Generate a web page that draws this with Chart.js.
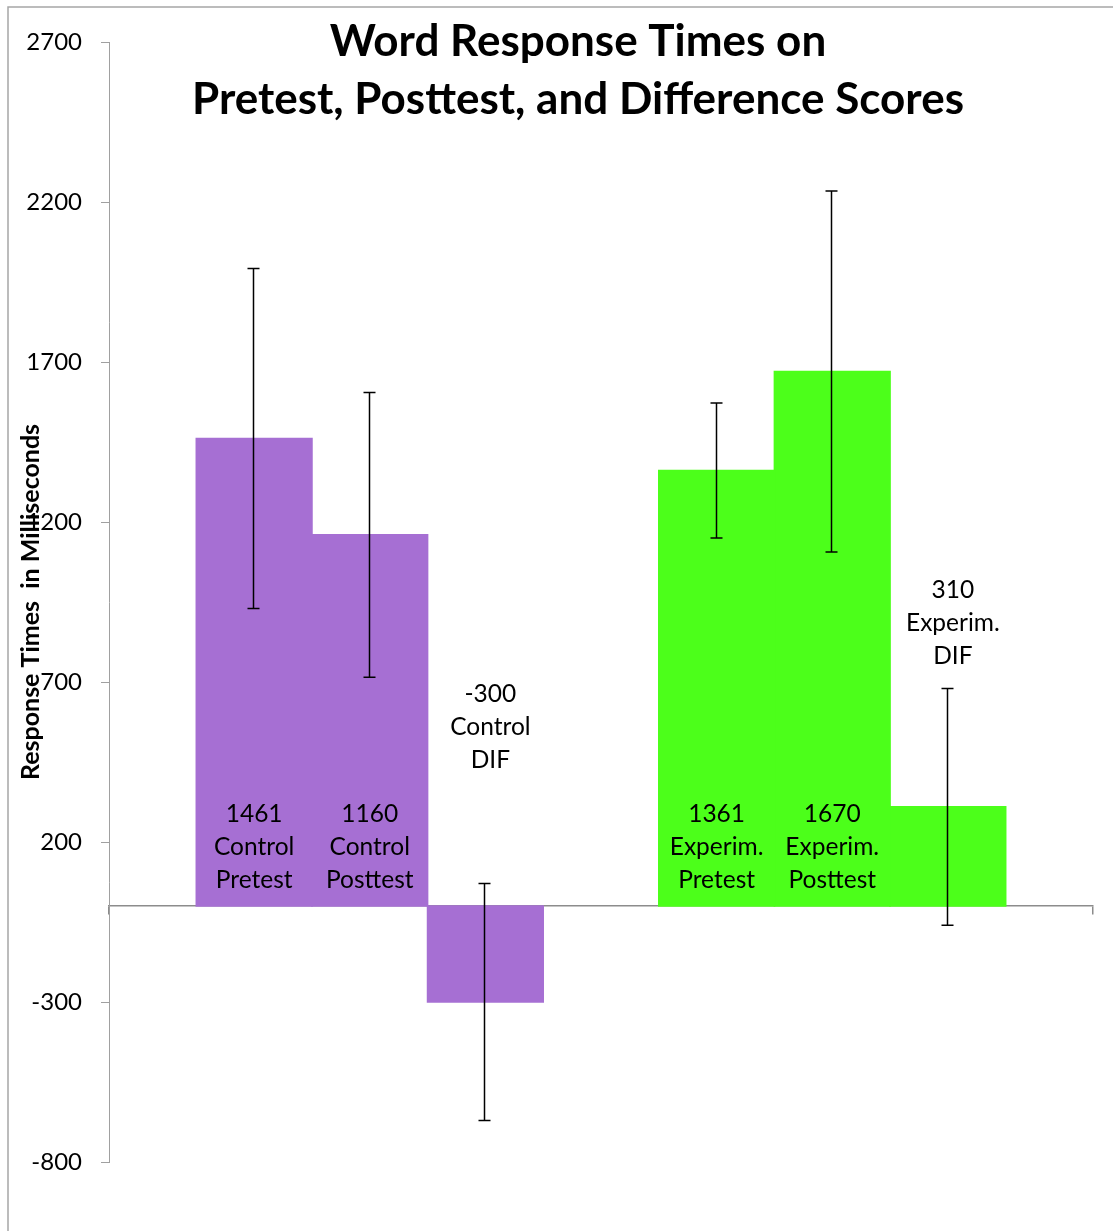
<!DOCTYPE html>
<html><head><meta charset="utf-8">
<script src="https://cdn.jsdelivr.net/npm/chart.js@4.4.0/dist/chart.umd.min.js"></script>
<style>html,body{margin:0;padding:0;background:#fff}#wrap{width:1113px;height:1231px;position:relative}</style>
</head><body><div id="wrap"><canvas id="c" width="1113" height="1231"></canvas></div>
<script>
// ---- data ----
const categories = [''];
const barGroups = ['Control', 'Control', 'Control', '', 'Experim.', 'Experim.', 'Experim.'];
const barKinds = ['Pretest', 'Posttest', 'DIF', '', 'Pretest', 'Posttest', 'DIF'];
const barMeans = [1461, 1160, -300, null, 1361, 1670, 310];
const barErrors = [531, 445, 370, null, 211, 564, 370];
const yTicks = [-800, -300, 200, 700, 1200, 1700, 2200, 2700];
const titleLines = ['Word Response Times on', 'Pretest, Posttest, and Difference Scores'];
const yTitle = 'Response Times  in Milliseconds';

// ---- styles ----
const groupColors = { 'Control': '#A66FD3', 'Experim.': '#4CFF1A', '': 'rgba(0,0,0,0)' };
const FONT = 'Lato, "Open Sans", sans-serif';

const datasets = barMeans.map((v, i) => ({
  label: barGroups[i] + ' ' + barKinds[i],
  data: [v],
  backgroundColor: groupColors[barGroups[i]],
  borderWidth: 0,
  inflateAmount: 0.8,
  categoryPercentage: 0.8225,
  barPercentage: 1.0
}));

const framePlugin = {
  id: 'frame',
  beforeDraw(chart) {
    const ctx = chart.ctx;
    ctx.save();
    ctx.fillStyle = '#fff';
    ctx.fillRect(0, 0, chart.width, chart.height);
    ctx.strokeStyle = '#A6A6A6';
    ctx.lineWidth = 1.5;
    ctx.beginPath();
    ctx.moveTo(8, chart.height + 2);
    ctx.lineTo(8, 7);
    ctx.lineTo(chart.width + 2, 7);
    ctx.stroke();
    ctx.restore();
  }
};

const errorBarPlugin = {
  id: 'errorBars',
  afterDatasetsDraw(chart) {
    const ctx = chart.ctx;
    const ys = chart.scales.y;
    ctx.save();
    ctx.strokeStyle = '#000';
    ctx.lineWidth = 1.5;
    barMeans.forEach((m, i) => {
      if (m === null || barErrors[i] === null) return;
      const bar = chart.getDatasetMeta(i).data[0];
      const x = Math.round(bar.x) - 0.5;
      const yTop = ys.getPixelForValue(m + barErrors[i]);
      const yBot = ys.getPixelForValue(m - barErrors[i]);
      ctx.beginPath();
      ctx.moveTo(x, yTop); ctx.lineTo(x, yBot);
      ctx.moveTo(x - 6, yTop); ctx.lineTo(x + 6, yTop);
      ctx.moveTo(x - 6, yBot); ctx.lineTo(x + 6, yBot);
      ctx.stroke();
    });
    ctx.restore();
  }
};

const labelPlugin = {
  id: 'barLabels',
  afterDatasetsDraw(chart, args, opts) {
    const ctx = chart.ctx;
    const zeroY = chart.scales.y.getPixelForValue(0);
    ctx.save();
    ctx.font = opts.font;
    ctx.fillStyle = '#000';
    ctx.textAlign = 'center';
    ctx.textBaseline = 'middle';
    barMeans.forEach((m, i) => {
      if (m === null) return;
      const bar = chart.getDatasetMeta(i).data[0];
      const lines = [String(m), barGroups[i], barKinds[i]];
      const x = bar.x + opts.dx[i];
      const lastY = zeroY + opts.lastLineOffset[i];
      lines.forEach((t, k) => {
        ctx.fillText(t, x, lastY - (lines.length - 1 - k) * opts.lineHeight);
      });
    });
    ctx.restore();
  }
};

const titlePlugin = {
  id: 'bigTitle',
  afterDraw(chart, args, opts) {
    const ctx = chart.ctx;
    ctx.save();
    ctx.font = opts.font;
    ctx.fillStyle = '#000';
    ctx.textAlign = 'center';
    ctx.textBaseline = 'middle';
    titleLines.forEach((t, k) => ctx.fillText(t, opts.x, opts.y[k]));
    ctx.restore();
  }
};

new Chart(document.getElementById('c'), {
  type: 'bar',
  data: { labels: categories, datasets },
  plugins: [framePlugin, errorBarPlugin, labelPlugin, titlePlugin],
  options: {
    responsive: false,
    animation: false,
    layout: { padding: { top: 42, right: 20, bottom: 69, left: 0 } },
    plugins: {
      legend: { display: false },
      tooltip: { enabled: false },
      barLabels: {
        font: '24.5px ' + FONT,
        lineHeight: 33,
        dx: [0, 0, 5, 0, 0, 0, 5],
        lastLineOffset: [-26, -26, -146, 0, -26, -26, -250]
      },
      bigTitle: { font: 'bold 44px ' + FONT, x: 578, y: [42, 100] }
    },
    scales: {
      x: {
        type: 'category',
        position: { y: 0 },
        ticks: { display: false },
        grid: { display: true, drawOnChartArea: false, drawTicks: true, tickLength: 8, color: '#8C8C8C', lineWidth: 1.5, offset: true },
        border: { display: true, color: '#8C8C8C', width: 1.5 }
      },
      y: {
        type: 'linear',
        min: -800,
        max: 2700,
        afterBuildTicks: (s) => { s.ticks = yTicks.map(v => ({ value: v })); },
        afterFit: (s) => { s.width = 109; },
        ticks: { font: { family: FONT, size: 24 }, color: '#000', padding: 19, callback: (v) => String(v) },
        grid: { display: true, drawOnChartArea: false, drawTicks: true, tickLength: 8, color: '#A0A0A0', lineWidth: 1 },
        border: { display: true, color: '#A0A0A0', width: 1 },
        title: { display: true, text: yTitle, color: '#000', font: { family: FONT, size: 25, weight: 'bold' }, padding: { top: 16, bottom: 0 } }
      }
    }
  }
});
</script>
</body></html>
